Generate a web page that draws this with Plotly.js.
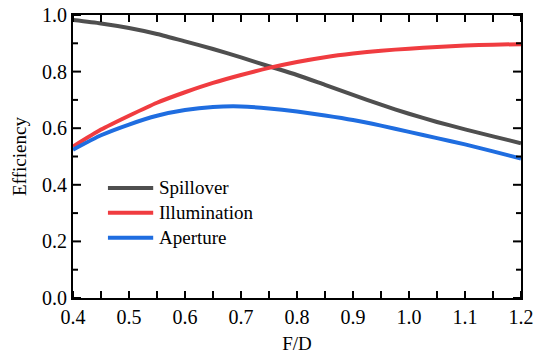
<!DOCTYPE html>
<html>
<head>
<meta charset="utf-8">
<script src="https://cdn.plot.ly/plotly-3.0.1.min.js"></script>
<style>html,body{margin:0;padding:0;background:#fff;}#chart{width:535px;height:356px;}</style>
</head>
<body>
<div id="chart"></div>
<script>
const fd = [0.40,0.45,0.50,0.55,0.60,0.65,0.70,0.75,0.80,0.85,0.90,0.95,1.00,1.05,1.10,1.15,1.20];
const spillover = [0.982,0.970,0.954,0.933,0.907,0.880,0.850,0.819,0.788,0.753,0.718,0.683,0.651,0.622,0.596,0.571,0.547];
const illumination = [0.535,0.595,0.644,0.690,0.727,0.760,0.788,0.813,0.834,0.851,0.864,0.874,0.881,0.887,0.892,0.895,0.897];
const aperture = [0.524,0.575,0.613,0.644,0.664,0.675,0.677,0.670,0.659,0.645,0.629,0.609,0.587,0.565,0.543,0.518,0.493];
const seriesNames = ['Spillover','Illumination','Aperture'];
const seriesColors = ['#4f4f4f','#f03c40','#1f6de0'];
const xTicks = [0.4,0.5,0.6,0.7,0.8,0.9,1.0,1.1,1.2];
const xMinorTicks = [0.45,0.55,0.65,0.75,0.85,0.95,1.05,1.15];
const yTicks = [0.0,0.2,0.4,0.6,0.8,1.0];
const yMinorTicks = [0.1,0.3,0.5,0.7,0.9];

const ys = [spillover, illumination, aperture];
const traces = ys.map((y,i)=>({
  x: fd, y: y, type:'scatter', mode:'lines', name: seriesNames[i],
  line:{color: seriesColors[i], width:4, shape:'spline', smoothing:0.6},
  showlegend:false
}));

const fam = 'Liberation Serif, Times New Roman, serif';
const legendY = [0.389,0.301,0.213];
const shapes = [], annotations = [];
seriesNames.forEach((n,i)=>{
  shapes.push({type:'line', xref:'paper', yref:'paper', x0:0.078, x1:0.179, y0:legendY[i], y1:legendY[i],
    line:{color:seriesColors[i], width:4}});
  annotations.push({xref:'paper', yref:'paper', x:0.1875, y:legendY[i], xanchor:'left', yanchor:'middle',
    text:n, showarrow:false, font:{family:fam, size:19, color:'#000'}});
});

// tick marks (inside, mirrored) drawn as shapes at the axis tick values
const plotW = 535-73-14, plotH = 356-15-58;
function xTickShapes(vals, len){
  const f = len/plotH;
  vals.forEach(v=>{
    shapes.push({type:'line', xref:'x', yref:'paper', x0:v, x1:v, y0:0, y1:f, line:{color:'#000', width:2}, layer:'above'});
    shapes.push({type:'line', xref:'x', yref:'paper', x0:v, x1:v, y0:1, y1:1-f, line:{color:'#000', width:2}, layer:'above'});
  });
}
function yTickShapes(vals, len){
  const f = len/plotW;
  vals.forEach(v=>{
    shapes.push({type:'line', xref:'paper', yref:'y', x0:0, x1:f, y0:v, y1:v, line:{color:'#000', width:2}, layer:'above'});
    shapes.push({type:'line', xref:'paper', yref:'y', x0:1, x1:1-f, y0:v, y1:v, line:{color:'#000', width:2}, layer:'above'});
  });
}
xTickShapes(xTicks, 7); xTickShapes(xMinorTicks, 7);
yTickShapes(yTicks, 8); yTickShapes(yMinorTicks, 5);

const layout = {
  width:535, height:356,
  margin:{l:73, r:14, t:15, b:58},
  paper_bgcolor:'#fff', plot_bgcolor:'#fff',
  font:{family:fam, color:'#000'},
  xaxis: {
    range:[0.4,1.2], tickmode:'array', tickvals:xTicks, ticktext:xTicks.map(v=>v.toFixed(1)),
    showgrid:false, zeroline:false, showline:true, linecolor:'#000', linewidth:2, mirror:true,
    ticks:'', tickfont:{family:fam, size:20, color:'#000'},
    title:{text:'F/D', font:{family:fam, size:19, color:'#000'}, standoff:10}
  },
  yaxis: {
    range:[0,1.0], tickmode:'array', tickvals:yTicks, ticktext:yTicks.map(v=>v.toFixed(1)),
    showgrid:false, zeroline:false, showline:true, linecolor:'#000', linewidth:2, mirror:true,
    ticks:'', tickfont:{family:fam, size:20, color:'#000'},
    title:{text:'Efficiency', font:{family:fam, size:19, color:'#000'}, standoff:10}
  },
  shapes: shapes,
  annotations: annotations
};
Plotly.newPlot('chart', traces, layout, {staticPlot:true, displayModeBar:false});
</script>
</body>
</html>
